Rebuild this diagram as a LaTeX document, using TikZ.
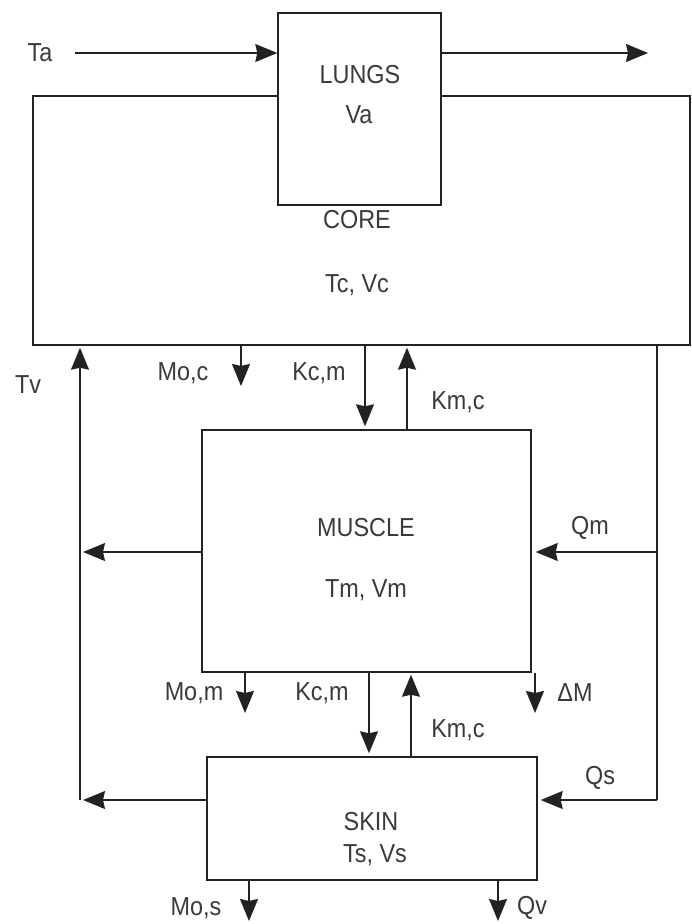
\documentclass[tikz,border=0pt]{standalone}
\usepackage{fontspec}
\setmainfont{Liberation Sans}[FakeStretch=0.9]
\usetikzlibrary{arrows.meta}
\definecolor{linec}{HTML}{222222}
\definecolor{txtc}{HTML}{3A3A3A}
\begin{document}
\begin{tikzpicture}[x=1pt,y=-1pt,
  box/.style={draw=linec, line width=1.4pt, fill=white, inner sep=0pt},
  lbl/.style={text=txtc, font=\fontsize{26}{30}\selectfont, inner sep=0pt},
  wire/.style={draw=linec, line width=1.4pt},
  flow/.style={wire, -{Stealth[length=22pt,width=18pt,inset=2pt]}}]
\fill[white] (0,0) rectangle (692,924);
\useasboundingbox (0,0) rectangle (692,924);

% boxes
\node[box, minimum width=657pt, minimum height=249pt] (core) at (361.5,220.5) {};
\node[box, minimum width=163pt, minimum height=192pt] (lungs) at (359.5,109) {};
\node[box, minimum width=329pt, minimum height=242pt] (muscle) at (366.5,551) {};
\node[box, minimum width=330pt, minimum height=123pt] (skin) at (372,818.5) {};

% box texts
\node[lbl] (tlungs) at (360,75) {LUNGS};
\node[lbl] (tva) at (359,115) {Va};
\node[lbl] (tcore) at (357,220) {CORE};
\node[lbl] (ttc) at (357,285) {Tc, Vc};
\node[lbl] (tmuscle) at (366,528) {MUSCLE};
\node[lbl] (ttm) at (366,590) {Tm, Vm};
\node[lbl] (tskin) at (371,822) {SKIN};
\node[lbl] (tts) at (375,855) {Ts, Vs};

% labels
\node[lbl] (lta) at (40,53) {Ta};
\node[lbl] (ltv) at (28,385) {Tv};
\node[lbl] (lmoc) at (183,373) {Mo,c};
\node[lbl] (lkcm1) at (319,373) {Kc,m};
\node[lbl] (lkmc1) at (458,402) {Km,c};
\node[lbl] (lqm) at (590,528) {Qm};
\node[lbl] (lmom) at (194,693) {Mo,m};
\node[lbl] (lkcm2) at (322,693) {Kc,m};
\node[lbl] (lkmc2) at (458,730) {Km,c};
\node[lbl] (ldm) at (575,693) {ΔM};
\node[lbl] (lqs) at (600,778) {Qs};
\node[lbl] (lmos) at (196,908) {Mo,s};
\node[lbl] (lqv) at (532,908) {Qv};

% coordinates
\coordinate (ta) at (75,53);
\coordinate (out) at (648,53);
\coordinate (lx) at (80,800);
\coordinate (ml) at (80,552);
\coordinate (rx) at (657,800);
\coordinate (qm) at (657,552);
\coordinate (moc) at (241,386);
\coordinate (kcm1) at (365,0);
\coordinate (kmc1) at (407,0);
\coordinate (mom) at (245,713);
\coordinate (kcm2) at (369,0);
\coordinate (kmc2) at (411,0);
\coordinate (dm) at (535,713);
\coordinate (mos) at (249,921);
\coordinate (qv) at (498,921);

% connectors
\draw[flow] (ta) -- (ta -| lungs.west);
\draw[flow] (out -| lungs.east) -- (out);
\draw[flow, shorten >=2pt] (lx) -- (lx |- core.south);
\draw[flow] (moc |- core.south) -- (moc);
\draw[flow, shorten >=3pt] (kcm1 |- core.south) -- (kcm1 |- muscle.north);
\draw[flow, shorten >=2pt] (kmc1 |- muscle.north) -- (kmc1 |- core.south);
\draw[wire] (rx |- core.south) -- (rx);
\draw[flow, shorten >=3pt] (rx) -- (rx -| skin.east);
\draw[flow, shorten >=4pt] (qm) -- (qm -| muscle.east);
\draw[flow, shorten >=3pt] (ml -| muscle.west) -- (ml);
\draw[flow, shorten >=3pt] (lx -| skin.west) -- (lx);
\draw[flow] (mom |- muscle.south) -- (mom);
\draw[flow, shorten >=3pt] (kcm2 |- muscle.south) -- (kcm2 |- skin.north);
\draw[flow, shorten >=2pt] (kmc2 |- skin.north) -- (kmc2 |- muscle.south);
\draw[flow] (dm |- muscle.south) -- (dm);
\draw[flow] (mos |- skin.south) -- (mos);
\draw[flow] (qv |- skin.south) -- (qv);
\end{tikzpicture}
\end{document}
